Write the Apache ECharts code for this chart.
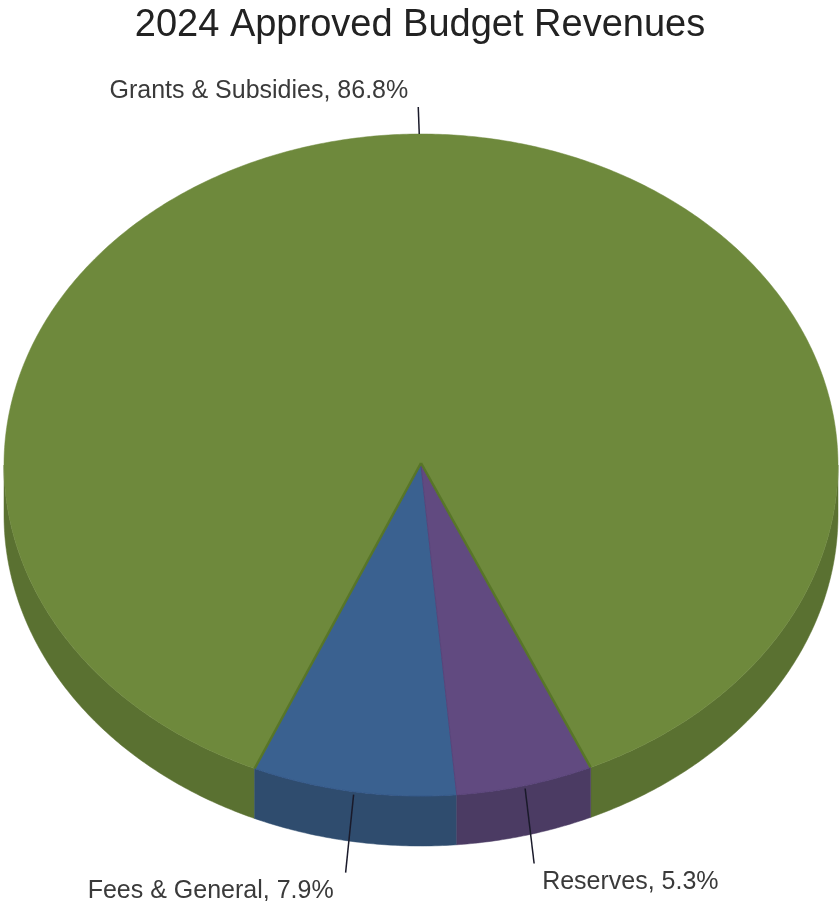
<!DOCTYPE html>
<html>
<head>
<meta charset="utf-8">
<script src="https://cdn.jsdelivr.net/npm/echarts@6/dist/echarts.min.js"></script>
<style>
html,body{margin:0;padding:0;background:#fff;}
#chart{width:840px;height:901px;}
</style>
</head>
<body>
<div id="chart"></div>
<script>
// ---- data ----
const title = '2024 Approved Budget Revenues';
const categories = ['Grants & Subsidies', 'Fees & General', 'Reserves'];
const values = [86.8, 7.9, 5.3];

// ---- styles ----
const topColors = ['#6E893C', '#3A6190', '#614A80'];
const sideColors = ['#5A7131', '#2F4C6E', '#4B3B63'];
const edgeColors = ['#587628', '#35598A', '#5A447A'];

const geo = { cx: 421, cy: 465, rx: 417, ry: 331, depth: 50, start: 66 };
const total = values.reduce((a, b) => a + b, 0);

function pt(deg, dy) {
  const r = deg * Math.PI / 180;
  return [geo.cx + geo.rx * Math.cos(r), geo.cy + geo.ry * Math.sin(r) + (dy || 0)];
}
function arcPts(a, b, dy) {
  const n = Math.max(2, Math.ceil(Math.abs(b - a) / 0.5));
  const out = [];
  for (let k = 0; k <= n; k++) out.push(pt(a + (b - a) * k / n, dy));
  return out;
}

function renderItem(params, api) {
  const i = params.dataIndex;
  let before = 0;
  for (let j = 0; j < i; j++) before += values[j];
  const a0 = geo.start - before / total * 360;
  const a1 = a0 - values[i] / total * 360;
  const lo = Math.min(a0, a1), hi = Math.max(a0, a1);
  const children = [];

  // side walls (front half only)
  for (let k = -2; k <= 1; k++) {
    const s = Math.max(lo, k * 360), e = Math.min(hi, k * 360 + 180);
    if (e > s) {
      const pts = arcPts(s, e, 0).concat(arcPts(e, s, geo.depth));
      children.push({
        type: 'polygon', z2: 1,
        shape: { points: pts },
        style: { fill: sideColors[i], stroke: sideColors[i], lineWidth: 0.5 }
      });
    }
  }
  // top face
  const topPts = [[geo.cx, geo.cy]].concat(arcPts(a0, a1, 0));
  children.push({
    type: 'polygon', z2: i === 0 ? 5 : 6,
    shape: { points: topPts },
    style: { fill: topColors[i], stroke: i === 0 ? topColors[i] : edgeColors[i], lineWidth: i === 0 ? 0.5 : 1 }
  });
  if (i === 0) {
    // darker radial edges of the large slice
    [a0, a1].forEach(function (a) {
      const q = pt(a, 0);
      children.push({
        type: 'line', z2: 7,
        shape: { x1: geo.cx, y1: geo.cy - 2, x2: q[0], y2: q[1] },
        style: { stroke: edgeColors[0], lineWidth: 2.5 }
      });
    });
  }

  // label + leader line
  const mid = (a0 + a1) / 2;
  const p = pt(mid, 0);
  const txt = categories[i] + ', ' + values[i].toFixed(1) + '%';
  const upper = Math.sin(mid * Math.PI / 180) < 0;
  let end, tx, ty, align;
  if (upper) {
    end = [p[0] - 1, p[1] - 27];
    tx = end[0] - 10; ty = end[1] - 16; align = 'right';
  } else if (p[0] < geo.cx) {
    p[1] += 3;
    end = [p[0] - 8, p[1] + 78];
    tx = end[0] - 12; ty = end[1] + 18; align = 'right';
  } else {
    p[1] += 3;
    end = [p[0] + 9, p[1] + 75];
    tx = end[0] + 8; ty = end[1] + 19; align = 'left';
  }
  children.push({
    type: 'line', z2: 20,
    shape: { x1: p[0], y1: p[1], x2: end[0], y2: end[1] },
    style: { stroke: '#1a1a2a', lineWidth: 1.5 }
  });
  children.push({
    type: 'text', z2: 21,
    style: {
      x: tx, y: ty, text: txt, align: align, verticalAlign: 'middle',
      fill: '#3a3a3a', font: '25px "Liberation Sans", Arial, sans-serif'
    }
  });
  return { type: 'group', children: children };
}

const chart = echarts.init(document.getElementById('chart'), null, { renderer: 'canvas' });
chart.setOption({
  backgroundColor: '#ffffff',
  animation: false,
  title: {
    text: title, left: 'center', top: 2,
    textStyle: { fontFamily: '"Liberation Sans", Arial, sans-serif', fontSize: 38, fontWeight: 'normal', color: '#222222' }
  },
  series: [{
    type: 'custom',
    coordinateSystem: 'none',
    renderItem: renderItem,
    data: values.map((v, i) => ({ name: categories[i], value: v }))
  }]
});
</script>
</body>
</html>
